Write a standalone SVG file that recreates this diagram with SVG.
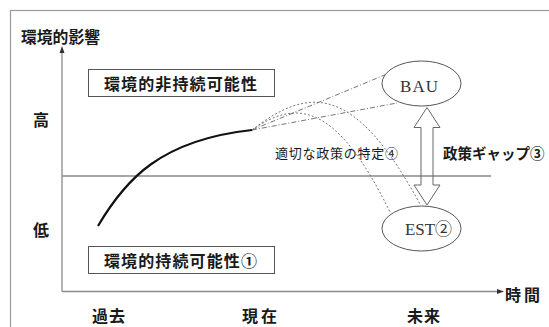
<svg xmlns="http://www.w3.org/2000/svg" width="549" height="327" viewBox="0 0 549 327">
<style>
.jp{font-family:"Noto Sans CJK JP","Noto Sans CJK SC",sans-serif;fill:#1a1a1a}
.b{font-weight:bold;font-size:16px}
.sm{font-size:13px}
.ser{font-family:"Liberation Serif","Noto Sans CJK JP",serif;font-size:17px;fill:#333}
.axis{stroke:#8a8a8a;stroke-width:1.3;fill:none}
.box{fill:#fff;stroke:#555;stroke-width:1}
.ell{fill:#fff;stroke:#555;stroke-width:1}
.dd{stroke:#666;stroke-width:0.9;fill:none;stroke-dasharray:5,2,1,2}
.dt{stroke:#666;stroke-width:0.9;fill:none;stroke-dasharray:2,2}
</style>
<rect width="549" height="327" fill="#fff"/>
<rect x="10.5" y="10.5" width="600" height="400" fill="none" stroke="#999" stroke-width="1.2"/>
<g id="axes">
<line class="axis" x1="62" y1="52" x2="62" y2="291.5"/>
<polygon points="62,46 59.5,53 64.5,53" fill="#333"/>
<line class="axis" x1="62" y1="291.5" x2="498" y2="291.5"/>
<polygon points="504,291.5 497,289 497,294" fill="#333"/>
<line class="axis" x1="62" y1="176" x2="491" y2="176"/>
</g>
<g id="labels">
<text class="jp b" x="21" y="42.5" textLength="79" lengthAdjust="spacingAndGlyphs">環境的影響</text>
<text class="jp b" x="41" y="125.5" text-anchor="middle">高</text>
<text class="jp b" x="41" y="236" text-anchor="middle">低</text>
<text class="jp b" x="92" y="322" textLength="33">過去</text>
<text class="jp b" x="242" y="322" textLength="35">現在</text>
<text class="jp b" x="407" y="322" textLength="33">未来</text>
<text class="jp b" x="505" y="300.5" textLength="35">時間</text>
<text class="jp b" x="443" y="159" style="font-size:14.5px">政策ギャップ③</text>
<text class="jp sm" x="275" y="157.5" textLength="123">適切な政策の特定④</text>
</g>
<g id="unsustainable">
<rect class="box" x="88.5" y="69.5" width="186" height="27"/>
<text class="jp b" x="104" y="89.5" textLength="153">環境的非持続可能性</text>
</g>
<g id="sustainable">
<rect class="box" x="88.5" y="246.5" width="186" height="27"/>
<text class="jp b" x="104" y="266.5" textLength="153">環境的持続可能性①</text>
</g>
<g id="connectors">
<path d="M98,226 C125,180 160,140 252,130" fill="none" stroke="#111" stroke-width="2.2"/>
<path class="dd" d="M252,130 L387,74"/>
<path class="dd" d="M252,130 L397,103"/>
<path class="dt" d="M252,130 C295,100 335,100 390,212"/>
<path class="dt" d="M252,130 C310,85 355,85 420,204"/>
<path d="M427,107.5 L440,127.5 L433,127.5 L433,185 L440,185 L427,205 L414,185 L421,185 L421,127.5 L414,127.5 Z" fill="none" stroke="#666" stroke-width="1"/>
</g>
<g id="BAU">
<ellipse class="ell" cx="421.5" cy="83.5" rx="39.5" ry="22.5"/>
<text class="ser" x="400" y="92" textLength="38">BAU</text>
</g>
<g id="EST">
<ellipse class="ell" cx="421.5" cy="228.5" rx="39.5" ry="22.5"/>
<text class="ser" x="405" y="235" textLength="47">EST②</text>
</g>
</svg>
